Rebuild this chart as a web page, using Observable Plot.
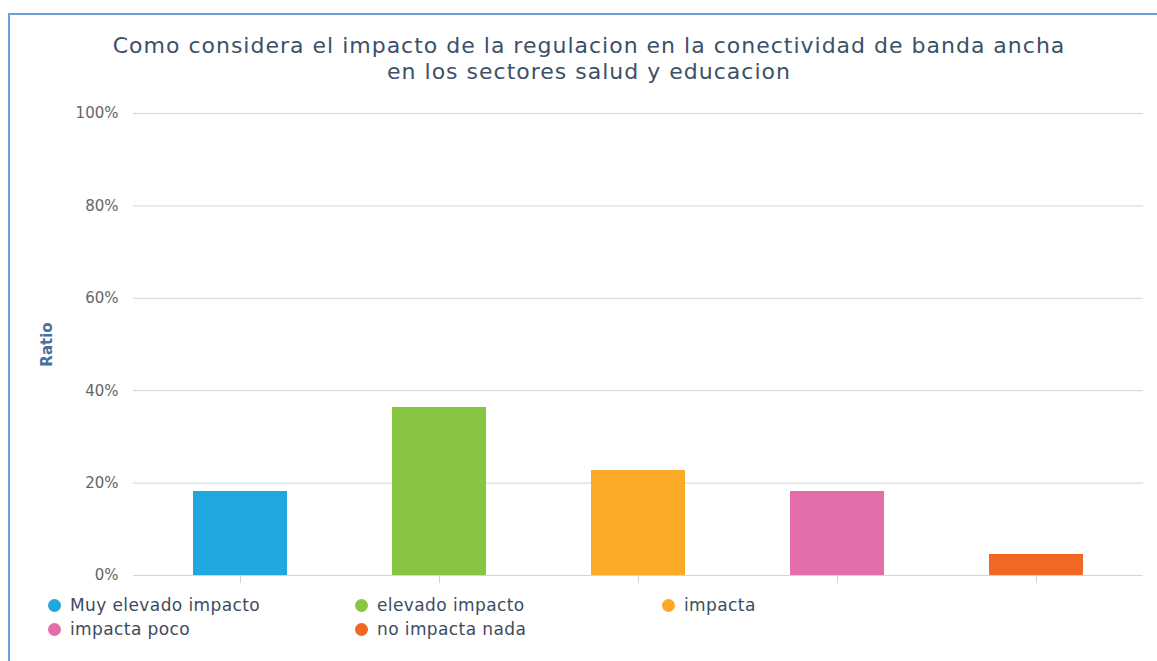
<!DOCTYPE html>
<html>
<head>
<meta charset="utf-8">
<script src="https://cdn.jsdelivr.net/npm/d3@7"></script>
<script src="https://cdn.jsdelivr.net/npm/@observablehq/plot@0.6"></script>
<style>
  html, body { margin: 0; padding: 0; background: #fff; }
  #wrap { position: relative; width: 1157px; height: 661px; overflow: hidden; background: #fff; font-family: "DejaVu Sans", sans-serif; }
  #frame { position: absolute; left: 8px; top: 13px; width: 1300px; height: 800px; border-left: 2px solid #6a9fd8; border-top: 2px solid #6a9fd8; }
  #title { position: absolute; left: 0; top: 33px; width: 1178px; text-align: center; font-size: 22px; line-height: 26px; color: #3c5068; letter-spacing: 1px; }
  #chart { position: absolute; left: 0; top: 95px; }
  #legend { position: absolute; left: 48px; top: 595px; width: 1000px; display: grid; grid-template-columns: 307px 307px 307px; row-gap: 4px; font-size: 17px; letter-spacing: 0.4px; color: #3e4b5e; }
  .item { display: flex; align-items: center; height: 20px; }
  .dot { width: 13px; height: 13px; border-radius: 50%; margin-right: 9px; flex: none; }
  svg [aria-label="y-axis label"] text, svg [aria-label="y-axis label"] { font-weight: bold; fill: #4a6f9c; font-size: 15px; }
</style>
</head>
<body>
<div id="wrap">
  <div id="frame"></div>
  <div id="title">Como considera el impacto de la regulacion en la conectividad de banda ancha<br>en los sectores salud y educacion</div>
  <div id="chart"></div>
  <div id="legend"></div>
</div>
<script>
const categories = ["Muy elevado impacto", "elevado impacto", "impacta", "impacta poco", "no impacta nada"];
const values = [18.18, 36.36, 22.73, 18.18, 4.55];
const colors = ["#1fa8e0", "#88c540", "#fba926", "#e46ea9", "#f16724"];
const yTicks = [0, 20, 40, 60, 80, 100];
const yLabel = "Ratio";

const data = categories.map((c, i) => ({category: c, value: values[i]}));

const chart = Plot.plot({
  width: 1157,
  height: 500,
  marginTop: 18,
  marginBottom: 20,
  marginLeft: 133,
  marginRight: 14,
  style: {fontFamily: "DejaVu Sans", fontSize: "15px", color: "#666", background: "transparent", overflow: "visible"},
  x: {domain: categories, paddingInner: 0.528, paddingOuter: 0.264, inset: 7, axis: null},
  y: {domain: [0, 100], axis: null},
  color: {domain: categories, range: colors},
  marks: [
    Plot.gridY(yTicks, {stroke: "#d4d4d4", strokeOpacity: 1}),
    Plot.axisY(yTicks, {tickSize: 0, tickPadding: 15, tickFormat: d => d + "%", label: yLabel, labelAnchor: "center", labelArrow: "none", labelOffset: 92, fill: "#666"}),
    Plot.barY(data, {x: "category", y: "value", fill: "category"}),
    Plot.ruleY([0], {stroke: "#ccd6eb"}),
    Plot.axisX(categories, {tickSize: 8, tickFormat: () => "", stroke: "#ccd6eb", strokeOpacity: 1, label: null})
  ]
});
document.getElementById("chart").appendChild(chart);

const legend = document.getElementById("legend");
categories.forEach((c, i) => {
  const item = document.createElement("div");
  item.className = "item";
  const dot = document.createElement("span");
  dot.className = "dot";
  dot.style.background = colors[i];
  const label = document.createElement("span");
  label.textContent = c;
  item.appendChild(dot);
  item.appendChild(label);
  legend.appendChild(item);
});
</script>
</body>
</html>
